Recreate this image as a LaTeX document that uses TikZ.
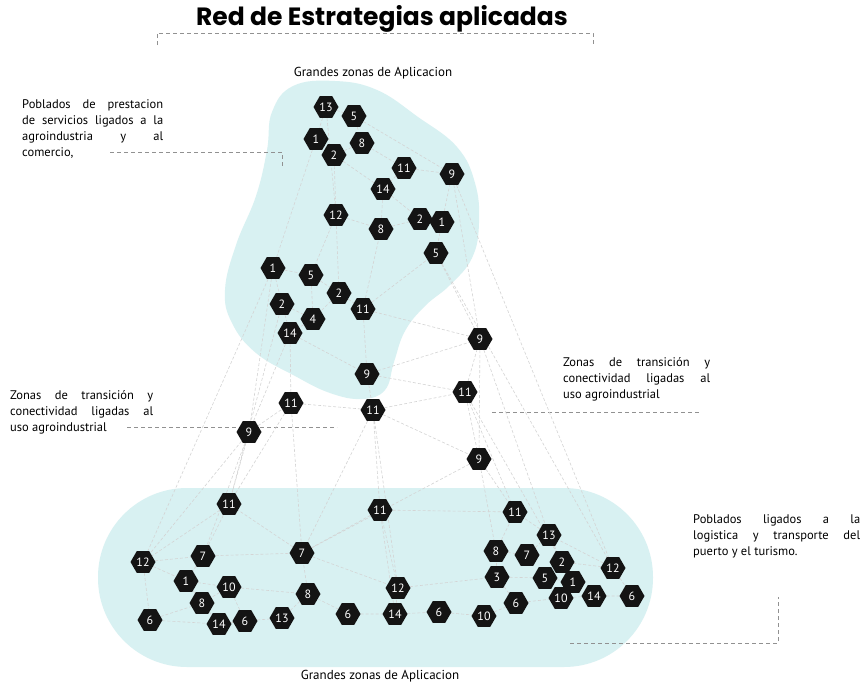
\documentclass[tikz,border=0pt]{standalone}
\usepackage{fontspec}
\setmainfont{PT Sans}
\newfontfamily\titlefont{Poppins}
\usetikzlibrary{shapes.geometric,backgrounds}
\definecolor{zonacolor}{RGB}{216,241,242}
\definecolor{aristacolor}{RGB}{212,212,212}
\definecolor{guiacolor}{RGB}{145,145,145}

\begin{document}
\begin{tikzpicture}[x=1pt,y=-1pt]
\tikzstyle{hexa}=[regular polygon,regular polygon sides=6,minimum size=25pt,inner sep=0pt,fill=black!92,text=white,font=\fontsize{12}{12}\selectfont]
\tikzstyle{arista}=[draw=aristacolor,line width=0.6pt,dash pattern=on 3pt off 2pt]
\tikzstyle{guia}=[draw=guiacolor,line width=0.7pt,dash pattern=on 4pt off 3pt]
\tikzstyle{nota}=[inner sep=0pt,anchor=north west,align=justify,font=\fontsize{12.5}{16}\selectfont]
\useasboundingbox (0,0) rectangle (864,688);

% titulo
\node (titulo) at (382,19) {\titlefont\bfseries\fontsize{25}{25}\selectfont Red de Estrategias aplicadas};
\draw [guia] (157,45) -- (157,33) -- (593,33) -- (593,45);
\node [font=\fontsize{13}{13}\selectfont] (zonasup) at (373,73) {Grandes zonas de Aplicacion};
\node [font=\fontsize{13}{13}\selectfont] (zonainf) at (380,676) {Grandes zonas de Aplicacion};

% notas
\node [nota,text width=141pt] (nota1) at (22,99) {Poblados de prestacion\linebreak de servicios ligados a la\linebreak agroindustria y al\linebreak comercio,};
\node [nota,text width=143pt] (nota2) at (10,390) {Zonas de transición y\linebreak conectividad ligadas al\linebreak uso agroindustrial};
\node [nota,text width=147pt] (nota3) at (563,357) {Zonas de transición y\linebreak conectividad ligadas al\linebreak uso agroindustrial};
\node [nota,text width=167pt] (nota4) at (693,514) {Poblados ligados a la\linebreak logistica y transporte del\linebreak puerto y el turismo.};

% zona superior
\node [hexa] (ta13) at (326,107) {13};
\node [hexa] (ta5) at (354,116) {5};
\node [hexa] (ta1) at (316,139) {1};
\node [hexa] (ta8) at (362,143) {8};
\node [hexa] (ta2) at (334,155) {2};
\node [hexa] (ta11) at (404,168) {11};
\node [hexa] (ta9) at (452,174) {9};
\node [hexa] (ta14) at (383,189) {14};
\node [hexa] (ta12) at (336,215) {12};
\node [hexa] (tb8) at (381,229) {8};
\node [hexa] (tb2) at (420,219) {2};
\node [hexa] (tb1) at (442,222) {1};
\node [hexa] (tb5) at (436,253) {5};
\node [hexa] (tc1) at (273,268) {1};
\node [hexa] (tc5) at (311,275) {5};
\node [hexa] (tc2) at (339,293) {2};
\node [hexa] (td2) at (282,304) {2};
\node [hexa] (tc11) at (363,309) {11};
\node [hexa] (td4) at (313,319) {4};
\node [hexa] (td14) at (290,333) {14};

% transicion
\node [hexa] (m9a) at (480,339) {9};
\node [hexa] (m9b) at (367,374) {9};
\node [hexa] (m11a) at (465,392) {11};
\node [hexa] (m11b) at (291,403) {11};
\node [hexa] (m11c) at (373,410) {11};
\node [hexa] (m9c) at (249,432) {9};
\node [hexa] (m9d) at (479,459) {9};

% zona inferior
\node [hexa] (b11a) at (229,504) {11};
\node [hexa] (b11b) at (380,510) {11};
\node [hexa] (b11c) at (515,512) {11};
\node [hexa] (b13a) at (549,535) {13};
\node [hexa] (b12a) at (143,562) {12};
\node [hexa] (b7a) at (203,556) {7};
\node [hexa] (b7b) at (302,553) {7};
\node [hexa] (b8a) at (496,551) {8};
\node [hexa] (b7c) at (527,555) {7};
\node [hexa] (b2) at (562,562) {2};
\node [hexa] (b1a) at (186,581) {1};
\node [hexa] (b10a) at (229,587) {10};
\node [hexa] (b8b) at (308,594) {8};
\node [hexa] (b12b) at (398,588) {12};
\node [hexa] (b3) at (497,577) {3};
\node [hexa] (b5) at (545,578) {5};
\node [hexa] (b1b) at (573,582) {1};
\node [hexa] (b12c) at (613,568) {12};
\node [hexa] (b8c) at (202,603) {8};
\node [hexa] (b6a) at (150,620) {6};
\node [hexa] (b14a) at (219,624) {14};
\node [hexa] (b6b) at (245,621) {6};
\node [hexa] (b13b) at (282,618) {13};
\node [hexa] (b6c) at (348,614) {6};
\node [hexa] (b14b) at (395,614) {14};
\node [hexa] (b6d) at (439,612) {6};
\node [hexa] (b10b) at (484,616) {10};
\node [hexa] (b6e) at (516,603) {6};
\node [hexa] (b10c) at (561,598) {10};
\node [hexa] (b14c) at (594,596) {14};
\node [hexa] (b6f) at (632,596) {6};

\begin{scope}[on background layer]
% fondos
\fill [white] (0,0) rectangle (864,688);
\fill [zonacolor] plot [smooth cycle,tension=0.7] coordinates {(293,86) (335,81) (377,90) (418,117) (457,147) (475,183) (479,223) (472,258) (450,285) (425,306) (405,331) (394,362) (385,390) (362,399) (330,393) (295,376) (256,353) (232,323) (225,290) (236,245) (256,196) (267,150) (272,112)};
\fill [zonacolor, rounded corners=89pt] (98,488) rectangle (653,667);
% guias de las notas
\draw [guia] (110,152) -- (282,152) -- (282,166);
\draw [guia] (127,427) -- (337,427);
\draw [guia] (492,412) -- (700,412);
\draw [guia] (570,643) -- (778,643) -- (778,597);
% red superior
\draw [arista] (ta13) -- (ta5) (ta13) -- (ta1) (ta1) -- (ta2) (ta2) -- (ta8) (ta5) -- (ta8);
\draw [arista] (ta5) -- (ta9) (ta8) -- (ta11) (ta11) -- (ta9) (ta11) -- (ta14) (ta14) -- (tb8);
\draw [arista] (ta2) -- (ta12) (ta12) -- (tb8) (tb8) -- (tb2) (tb2) -- (tb1) (tb1) -- (ta9);
\draw [arista] (tb1) -- (tb5) (ta12) -- (tc5) (ta12) -- (tc2) (tc1) -- (tc5) (tc1) -- (td2);
\draw [arista] (td2) -- (td4) (td4) -- (td14) (td2) -- (td14) (tc5) -- (tc2) (tc2) -- (tc11);
\draw [arista] (tc11) -- (tb5) (tc11) -- (tb8) (ta1) -- (tc1) (ta14) -- (tb2) (ta2) -- (ta14);
\draw [arista] (ta13) -- (ta12) (tc5) -- (td4) (tc2) -- (td4);
% transicion
\draw [arista] (tc11) -- (m9b) (td14) -- (m9b) (tb5) -- (m9a) (m9b) -- (m9a) (m9b) -- (m11a);
\draw [arista] (m9b) -- (m11c) (m11b) -- (m11c) (m11c) -- (m11a) (m11a) -- (m9a) (m11c) -- (m9d);
\draw [arista] (m9c) -- (m11b) (td14) -- (m9c) (m9a) -- (m9d) (m11a) -- (m9d) (tc11) -- (m9a);
\draw [arista] (ta9) -- (m9a) (td14) -- (m11b) (tc1) -- (m9c);
% enlaces largos
\draw [arista] (tc1) -- (b12a) (td2) -- (b11a) (m9c) -- (b12a) (m9c) -- (b7a) (m9c) -- (b11a);
\draw [arista] (m11b) -- (b11a) (m11b) -- (b7b) (m11c) -- (b7b) (m11c) -- (b11b) (m11c) -- (b12b);
\draw [arista] (m9d) -- (b11c) (m9d) -- (b8a) (m9a) -- (b13a) (tb5) -- (b12c) (ta9) -- (b12c);
\draw [arista] (m11a) -- (b11c) (m9d) -- (b7b) (m11a) -- (b2);
% red inferior
\draw [arista] (b12a) -- (b7a) (b12a) -- (b1a) (b12a) -- (b6a) (b7a) -- (b1a) (b7a) -- (b11a);
\draw [arista] (b7a) -- (b7b) (b1a) -- (b8c) (b1a) -- (b10a) (b10a) -- (b8c) (b8c) -- (b14a);
\draw [arista] (b14a) -- (b6b) (b6a) -- (b8c) (b6b) -- (b13b) (b13b) -- (b8b) (b8b) -- (b7b);
\draw [arista] (b7b) -- (b11a) (b7b) -- (b12b) (b8b) -- (b6c) (b6c) -- (b14b) (b14b) -- (b12b);
\draw [arista] (b14b) -- (b6d) (b6d) -- (b10b) (b12b) -- (b11b) (b12b) -- (b3) (b10b) -- (b6e);
\draw [arista] (b6e) -- (b3) (b3) -- (b8a) (b8a) -- (b11c) (b8a) -- (b7c) (b7c) -- (b13a);
\draw [arista] (b13a) -- (b11c) (b13a) -- (b2) (b2) -- (b5) (b5) -- (b1b) (b1b) -- (b10c);
\draw [arista] (b10c) -- (b14c) (b14c) -- (b6f) (b12c) -- (b6f) (b12c) -- (b2) (b12c) -- (b13a);
\draw [arista] (b6e) -- (b10c) (b3) -- (b5) (b11b) -- (b11c) (b11b) -- (b7b) (b10a) -- (b6b);
\draw [arista] (b10a) -- (b8b) (b6a) -- (b14a) (b11a) -- (b12a) (b11b) -- (b14b);
\end{scope}
\end{tikzpicture}
\end{document}
